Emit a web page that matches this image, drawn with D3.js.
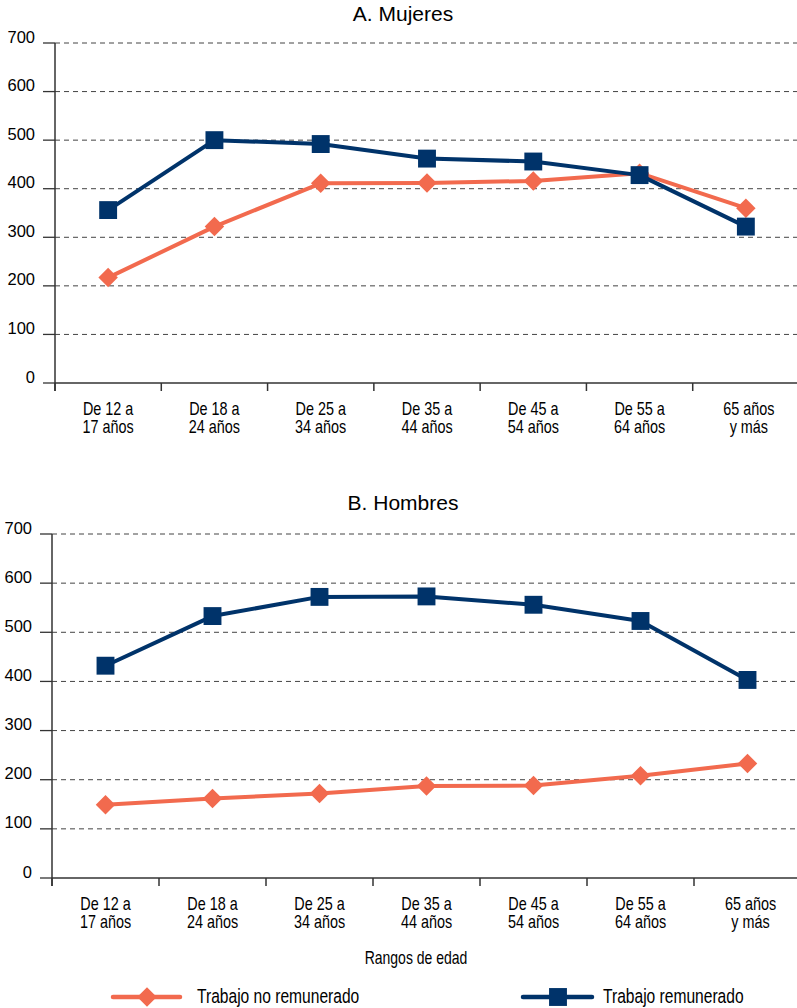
<!DOCTYPE html>
<html><head><meta charset="utf-8">
<script src="https://cdn.jsdelivr.net/npm/d3@7"></script>
<style>
html,body{margin:0;padding:0;background:#fff;}
svg{display:block;}
</style></head>
<body>
<svg id="chart" width="797" height="1008"></svg>
<script>
const categories = [["De 12 a","17 años"],["De 18 a","24 años"],["De 25 a","34 años"],["De 35 a","44 años"],["De 45 a","54 años"],["De 55 a","64 años"],["65 años","y más"]];
const yTicks = [0,100,200,300,400,500,600,700];
const mujeresNoRemunerado = [217, 322, 411, 412, 416, 432, 360];
const mujeresRemunerado   = [356, 500, 492, 462, 456, 428, 322];
const hombresNoRemunerado = [149, 162, 172, 187, 188, 208, 233];
const hombresRemunerado   = [432, 533, 572, 573, 556, 523, 403];
const titles = ["A. Mujeres","B. Hombres"];
const seriesNames = ["Trabajo no remunerado","Trabajo remunerado"];
const xTitle = "Rangos de edad";

const NAVY = "#00336a", ORANGE = "#f26a4e";
const svg = d3.select("#chart");
const regular = "'Liberation Sans',Arial,sans-serif";
const SX = 0.8;

const diamond = d3.symbol().type(d3.symbolSquare).size(190);
const square = d3.symbol().type(d3.symbolSquare).size(320);

function narrowText(parent, x, y, lines, size, anchor, lh){
  const g = parent.append("g").attr("transform",`translate(${x},${y}) scale(${SX},1)`);
  const t = g.append("text").attr("text-anchor",anchor).attr("font-family",regular)
    .attr("font-size",size).attr("fill","#000");
  lines.forEach((s,k)=>t.append("tspan").attr("x",0).attr("y",k*(lh||0)).text(s));
  return g;
}

function panel(opt){
  const g = svg.append("g");
  const idx = categories.map((d,i)=>i);
  const x = d3.scaleBand().domain(idx).range([opt.x0, opt.x1]).padding(0);
  const y = d3.scaleLinear().domain([0,700]).range([opt.yBottom, opt.yTop]);

  g.append("text").attr("x",403).attr("y",opt.titleY).attr("text-anchor","middle")
    .attr("font-family",regular).attr("font-size",21).attr("fill","#000").text(opt.title);

  g.selectAll("line.grid").data(yTicks.filter(t=>t>0)).join("line")
    .attr("x1",opt.x0).attr("x2",797).attr("y1",d=>y(d)).attr("y2",d=>y(d))
    .attr("stroke","#444").attr("stroke-width",1).attr("stroke-dasharray","5,4");
  g.selectAll("line.yt").data(yTicks).join("line")
    .attr("x1",opt.x0-12).attr("x2",opt.x0).attr("y1",d=>y(d)).attr("y2",d=>y(d))
    .attr("stroke","#333").attr("stroke-width",1.3);
  g.selectAll("text.yl").data(yTicks).join("text")
    .attr("x",opt.x0-20).attr("y",d=>y(d)-0.5)
    .attr("text-anchor","end").attr("font-family",regular).attr("font-size",16.5).attr("fill","#000")
    .text(d=>d);
  g.append("line").attr("x1",opt.x0).attr("x2",opt.x0).attr("y1",opt.yTop).attr("y2",opt.yBottom+8)
    .attr("stroke","#333").attr("stroke-width",1.5);
  g.append("line").attr("x1",opt.x0).attr("x2",797).attr("y1",opt.yBottom).attr("y2",opt.yBottom)
    .attr("stroke","#333").attr("stroke-width",1.5);
  g.selectAll("line.xt").data(idx).join("line")
    .attr("x1",d=>x(d)).attr("x2",d=>x(d)).attr("y1",opt.yBottom).attr("y2",opt.yBottom+8)
    .attr("stroke","#333").attr("stroke-width",1.5);
  idx.forEach(d=>{
    narrowText(g, x(d)+x.bandwidth()/2 + (d===6?3:0), opt.labelY, categories[d], 18, "middle", 18.5);
  });

  const cx = d=>x(d)+x.bandwidth()/2;
  const line = d3.line().x((d,i)=>cx(i)).y(d=>y(d));
  g.append("path").datum(opt.noRem).attr("d",line).attr("fill","none")
    .attr("stroke",ORANGE).attr("stroke-width",4).attr("stroke-linejoin","round");
  g.selectAll("path.dm").data(opt.noRem).join("path")
    .attr("d",diamond).attr("fill",ORANGE)
    .attr("transform",(d,i)=>`translate(${cx(i)},${y(d)}) rotate(45)`);
  g.append("path").datum(opt.rem).attr("d",line).attr("fill","none")
    .attr("stroke",NAVY).attr("stroke-width",4).attr("stroke-linejoin","round");
  g.selectAll("path.sq").data(opt.rem).join("path")
    .attr("d",square).attr("fill",NAVY)
    .attr("transform",(d,i)=>`translate(${cx(i)},${y(d)})`);
}

panel({title:titles[0], titleY:21, x0:55, x1:799, yTop:43, yBottom:383, labelY:415,
  noRem:mujeresNoRemunerado, rem:mujeresRemunerado});
panel({title:titles[1], titleY:510, x0:52, x1:801, yTop:534, yBottom:878, labelY:910,
  noRem:hombresNoRemunerado, rem:hombresRemunerado});

narrowText(svg, 416, 964, [xTitle], 17.5, "middle", 0);

const leg = [{x1:113,x2:180,cx:147,tx:197,color:ORANGE,sym:diamond,rot:45,name:seriesNames[0]},
             {x1:523,x2:592,cx:558,tx:603,color:NAVY,sym:square,rot:0,name:seriesNames[1]}];
const lg = svg.append("g");
leg.forEach(l=>{
  lg.append("line").attr("x1",l.x1).attr("x2",l.x2).attr("y1",997).attr("y2",997)
    .attr("stroke",l.color).attr("stroke-width",4.5).attr("stroke-linecap","round");
  lg.append("path").attr("d",l.sym).attr("fill",l.color)
    .attr("transform",`translate(${l.cx},997) rotate(${l.rot})`);
  narrowText(lg, l.tx, 1003, [l.name], 19.5, "start", 0);
});
</script>
</body></html>
